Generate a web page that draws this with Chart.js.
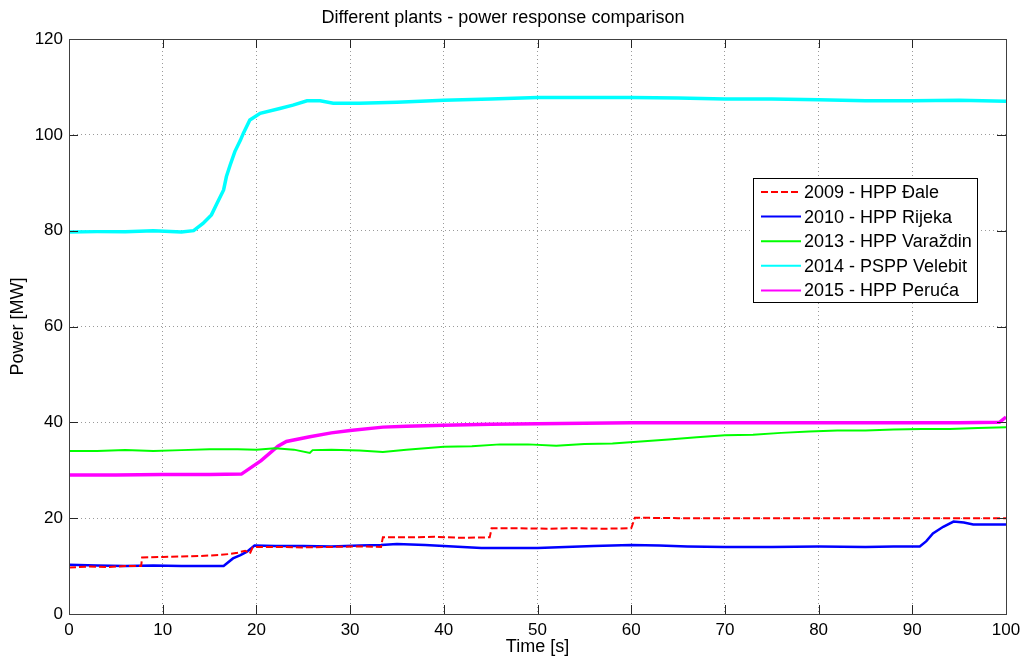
<!DOCTYPE html>
<html>
<head>
<meta charset="utf-8">
<script src="https://cdn.jsdelivr.net/npm/chart.js@4"></script>
<style>
  html, body { margin: 0; padding: 0; background: #fff; }
  #wrap { width: 1022px; height: 659px; position: relative; }
</style>
</head>
<body>
<div id="wrap"><canvas id="chart"></canvas></div>
<script>
// values
var seriesNames = ["2009 - HPP Đale", "2010 - HPP Rijeka", "2013 - HPP Varaždin", "2014 - PSPP Velebit", "2015 - HPP Peruća"];

var timeDale = [0, 2, 4, 6, 7.7, 7.8, 10, 12, 14, 16, 17, 18, 18.8, 19.3, 19.6, 20, 22, 25, 28, 31, 33.3, 33.5, 36, 39, 42, 44.9, 45.1, 48, 51, 54, 57, 60.0, 60.4, 65, 70, 75, 80, 85, 90, 95, 100];
var powerDale = [9.7, 9.9, 9.8, 10.0, 10.0, 11.8, 11.9, 12.0, 12.1, 12.3, 12.5, 12.8, 13.2, 12.6, 13.9, 14.0, 14.0, 13.9, 14.0, 14.1, 14.0, 16.0, 16.0, 16.1, 15.9, 16.0, 17.9, 17.9, 17.8, 17.9, 17.8, 17.9, 20.1, 20.0, 20.0, 20.0, 20.0, 20.0, 20.0, 20.0, 20.0];

var timeRijeka = [0, 3, 6, 9, 12, 15, 16.5, 17.5, 18.3, 19, 19.8, 22, 25, 28, 31, 33.3, 35, 38, 41, 44, 47, 50, 53, 56, 60, 63, 66, 70, 75, 80, 85, 88, 90.8, 91.5, 92.2, 93.3, 94.4, 95.5, 96.5, 98, 100];
var powerRijeka = [10.3, 10.1, 10.0, 10.1, 10.0, 10.0, 10.0, 11.6, 12.3, 13.0, 14.3, 14.2, 14.2, 14.1, 14.3, 14.4, 14.6, 14.4, 14.1, 13.8, 13.8, 13.8, 14.0, 14.2, 14.4, 14.3, 14.1, 14.0, 14.0, 14.1, 14.0, 14.1, 14.1, 15.2, 16.8, 18.2, 19.3, 19.1, 18.7, 18.7, 18.7];

var timeVarazdin = [0, 3, 6, 9, 12, 15, 18, 20, 22, 24, 25.7, 26, 28, 31, 33.5, 36, 38, 40, 43, 46, 49, 52, 55, 58, 61, 64, 67, 70, 73, 76, 79, 82, 85, 88, 91, 94, 97, 100];
var powerVarazdin = [34.0, 34.0, 34.2, 34.0, 34.2, 34.4, 34.4, 34.3, 34.6, 34.3, 33.6, 34.2, 34.3, 34.1, 33.8, 34.3, 34.6, 34.9, 35.0, 35.4, 35.4, 35.1, 35.5, 35.6, 36.0, 36.4, 36.9, 37.3, 37.4, 37.8, 38.1, 38.3, 38.3, 38.5, 38.6, 38.6, 38.8, 39.0];

var timeVelebit = [0, 3, 6, 9, 12, 13.3, 14.3, 15.2, 15.8, 16.5, 16.8, 17.2, 17.7, 18.3, 18.6, 19.3, 20.4, 22.5, 23.9, 25.4, 26.8, 28.2, 31, 35, 40, 45, 50, 55, 60, 65, 70, 75, 80, 85, 90, 95, 100];
var powerVelebit = [79.7, 79.8, 79.8, 80.0, 79.7, 80.0, 81.5, 83.3, 85.7, 88.5, 91.3, 93.7, 96.5, 98.9, 100.3, 103.1, 104.5, 105.5, 106.2, 107.1, 107.1, 106.6, 106.6, 106.8, 107.2, 107.5, 107.8, 107.8, 107.8, 107.7, 107.5, 107.5, 107.3, 107.1, 107.1, 107.2, 107.0];

var timePeruca = [0, 5, 10, 15, 18.4, 20.5, 22.3, 23.2, 25.7, 28, 30, 33.5, 36, 40, 45, 50, 55, 60, 70, 80, 90, 95, 99.3, 100];
var powerPeruca = [29.0, 29.0, 29.1, 29.1, 29.2, 32.0, 35.0, 36.0, 37.0, 37.8, 38.3, 39.0, 39.2, 39.4, 39.6, 39.7, 39.8, 39.9, 39.9, 39.9, 39.9, 39.9, 40.0, 41.1];

var xTicks = [0, 10, 20, 30, 40, 50, 60, 70, 80, 90, 100];
var yTicks = [0, 20, 40, 60, 80, 100, 120];

function toPoints(ts, vs) {
    var pts = [];
    for (var i = 0; i < ts.length; i++) {
        pts.push({ x: ts[i], y: vs[i] });
    }
    return pts;
}

var FONT = "'Liberation Sans', Arial, sans-serif";

// matlab style frame: box, inner ticks, legend inside the axes
var matlabFrame = {
    id: "matlabFrame",
    afterDraw: function (chart) {
        var ctx = chart.ctx;
        var a = chart.chartArea;
        var xs = chart.scales.x, ys = chart.scales.y;
        var tl = 9;
        ctx.save();
        ctx.strokeStyle = "#262626";
        ctx.lineWidth = 1;
        ctx.beginPath();
        xTicks.forEach(function (v) {
            var px = Math.round(xs.getPixelForValue(v)) + 0.5;
            ctx.moveTo(px, a.bottom); ctx.lineTo(px, a.bottom - tl);
            ctx.moveTo(px, a.top); ctx.lineTo(px, a.top + tl);
        });
        yTicks.forEach(function (v) {
            var py = Math.round(ys.getPixelForValue(v)) + 0.5;
            ctx.moveTo(a.left, py); ctx.lineTo(a.left + tl, py);
            ctx.moveTo(a.right, py); ctx.lineTo(a.right - tl, py);
        });
        ctx.stroke();
        ctx.strokeStyle = "#404040";
        ctx.strokeRect(Math.round(a.left) + 0.5, Math.round(a.top) + 0.5,
            Math.round(a.right - a.left), Math.round(a.bottom - a.top));

        // legend
        var bx = 753.5, by = 178.5, bw = 224, bh = 124;
        ctx.fillStyle = "#fff";
        ctx.fillRect(bx, by, bw, bh);
        ctx.strokeStyle = "#000";
        ctx.strokeRect(bx, by, bw, bh);
        ctx.font = "18px " + FONT;
        ctx.textBaseline = "middle";
        chart.data.datasets.forEach(function (ds, i) {
            var y = 192 + i * 24.6;
            ctx.save();
            ctx.strokeStyle = ds.borderColor;
            ctx.lineWidth = 2;
            ctx.setLineDash(ds.borderDash || []);
            ctx.beginPath();
            ctx.moveTo(761, y); ctx.lineTo(801, y);
            ctx.stroke();
            ctx.restore();
            ctx.fillStyle = "#000";
            ctx.fillText(ds.label, 804, y + 1);
        });
        ctx.restore();
    }
};

var ctx = document.getElementById("chart").getContext("2d");
new Chart(ctx, {
    type: "line",
    data: {
        datasets: [
            { label: seriesNames[0], data: toPoints(timeDale, powerDale), borderColor: "#ff0000", borderWidth: 2, borderDash: [7, 3] },
            { label: seriesNames[1], data: toPoints(timeRijeka, powerRijeka), borderColor: "#0000ff", borderWidth: 2.5 },
            { label: seriesNames[2], data: toPoints(timeVarazdin, powerVarazdin), borderColor: "#00ff00", borderWidth: 2 },
            { label: seriesNames[3], data: toPoints(timeVelebit, powerVelebit), borderColor: "#00ffff", borderWidth: 3.5 },
            { label: seriesNames[4], data: toPoints(timePeruca, powerPeruca), borderColor: "#ff00ff", borderWidth: 3.5 }
        ]
    },
    options: {
        responsive: true,
        maintainAspectRatio: false,
        animation: false,
        elements: { point: { radius: 0 }, line: { tension: 0 } },
        layout: { padding: { left: 0, right: 16, top: 0, bottom: 0 } },
        plugins: {
            legend: { display: false },
            tooltip: { enabled: false },
            title: {
                display: true,
                text: "Different plants - power response comparison",
                color: "#000",
                font: { family: FONT, size: 18, weight: "normal", lineHeight: "20px" },
                padding: { top: 8, bottom: 11 }
            }
        },
        scales: {
            x: {
                type: "linear",
                min: 0, max: 100,
                afterFit: function (scale) {
                    scale.height = 45;
                    scale.paddingLeft = 0;
                    scale.paddingRight = 0;
                },
                ticks: { stepSize: 10, color: "#000", padding: 6, maxRotation: 0, font: { family: FONT, size: 17 } },
                grid: { color: "#9a9a9a", drawTicks: false },
                border: { display: false, dash: [1, 3] },
                title: { display: true, text: "Time [s]", color: "#000", font: { family: FONT, size: 18 }, padding: { top: 0, bottom: 1 } }
            },
            y: {
                min: 0, max: 120,
                afterFit: function (scale) { scale.width = 69; },
                ticks: { stepSize: 20, color: "#000", padding: 6, font: { family: FONT, size: 17 } },
                grid: { color: "#9a9a9a", drawTicks: false },
                border: { display: false, dash: [1, 3] },
                title: { display: true, text: "Power [MW]", color: "#000", font: { family: FONT, size: 18 }, padding: { top: 7, bottom: 0 } }
            }
        }
    },
    plugins: [matlabFrame]
});
</script>
</body>
</html>
